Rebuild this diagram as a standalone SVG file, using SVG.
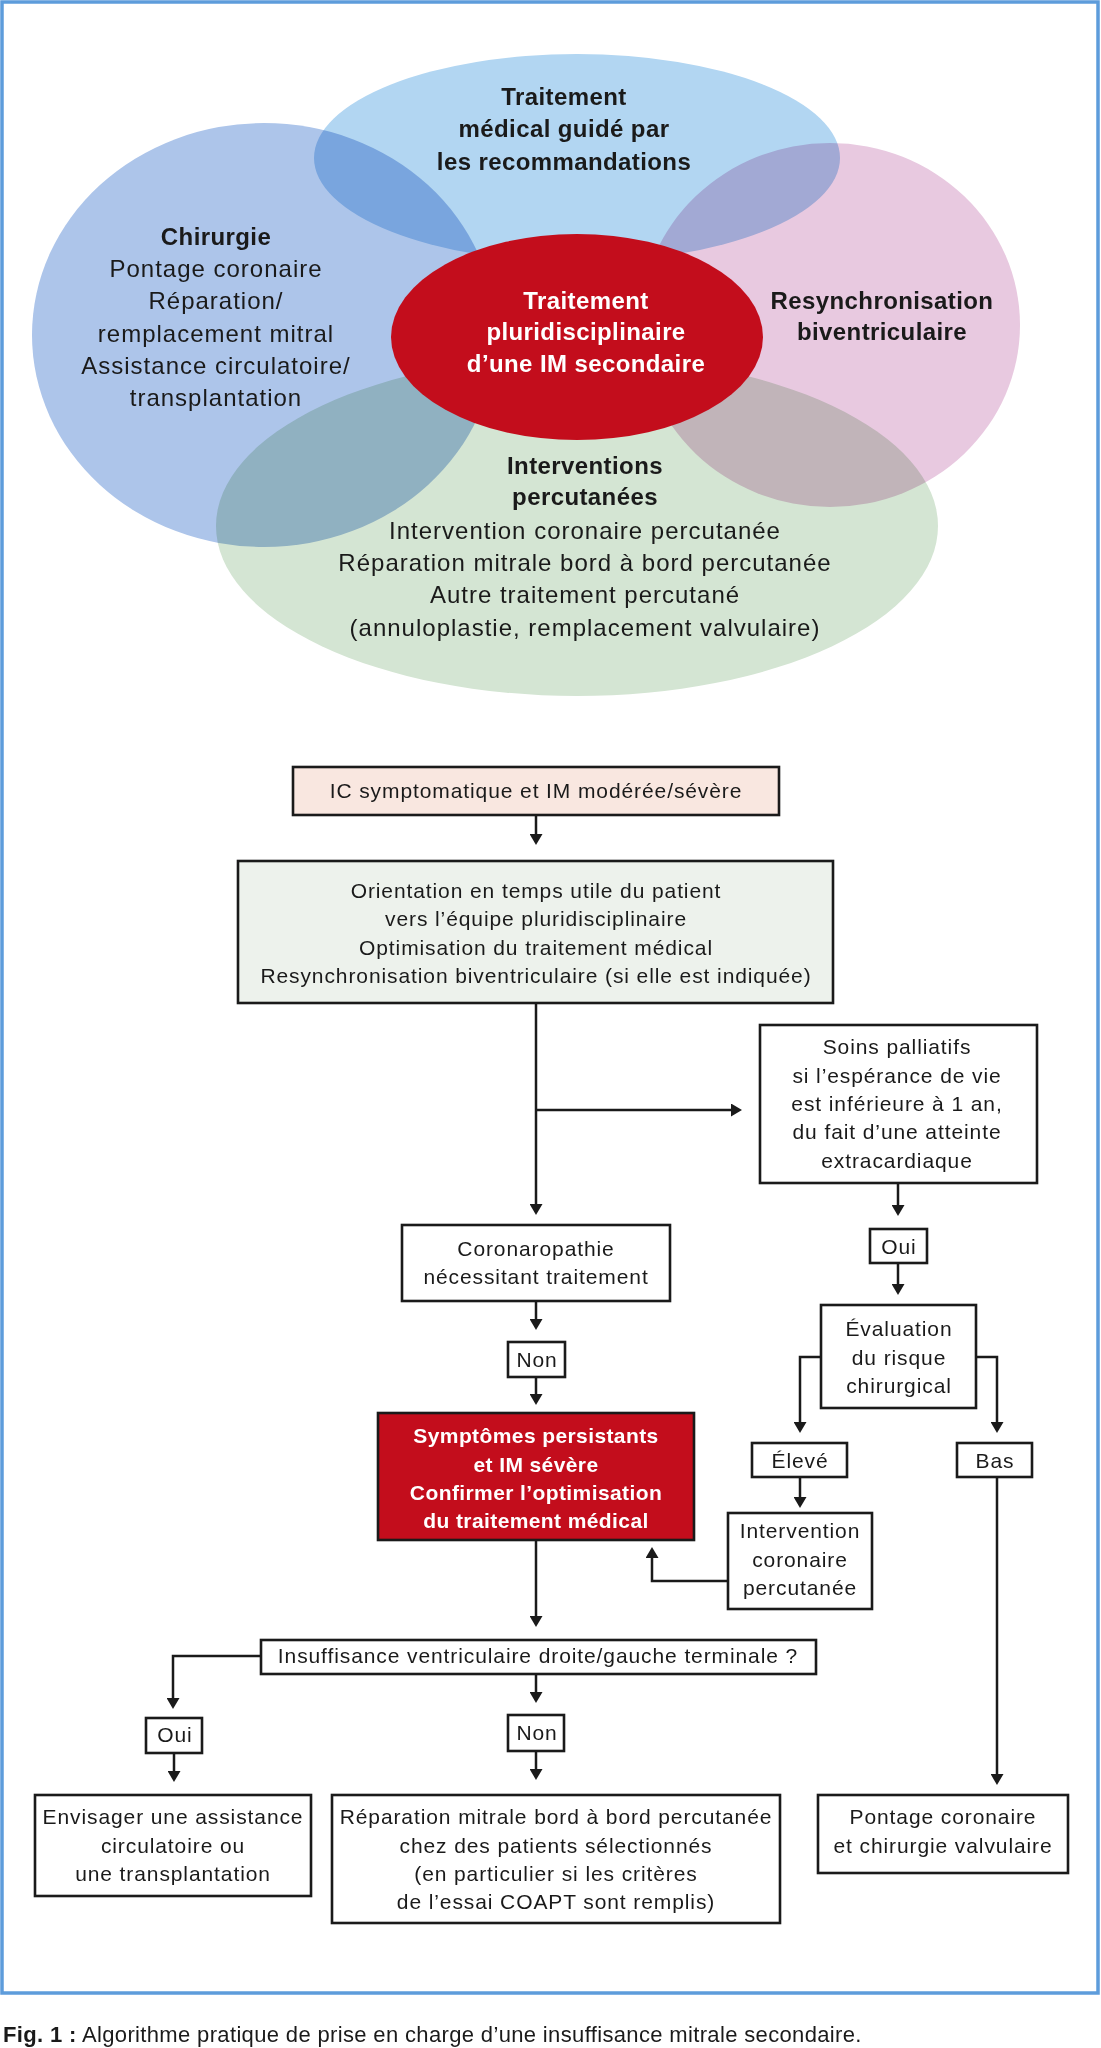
<svg xmlns="http://www.w3.org/2000/svg" width="1101" height="2048" viewBox="0 0 1101 2048">
<style>
.el{mix-blend-mode:multiply}
.t{font-family:"Liberation Sans",Arial,sans-serif;font-size:24px;letter-spacing:1px;fill:#1a1a1a;text-anchor:middle}
.tb{font-family:"Liberation Sans",Arial,sans-serif;font-size:24px;font-weight:bold;letter-spacing:0.4px;fill:#1a1a1a;text-anchor:middle}
.w{fill:#ffffff}
.f{font-family:"Liberation Sans",Arial,sans-serif;font-size:21px;letter-spacing:0.9px;fill:#1a1a1a;text-anchor:middle}
.fb{font-family:"Liberation Sans",Arial,sans-serif;font-size:21px;font-weight:bold;letter-spacing:0.4px;fill:#ffffff;text-anchor:middle}
.box{fill:#ffffff;stroke:#1a1a1a;stroke-width:2.6}
.con{fill:none;stroke:#1a1a1a;stroke-width:2.5;marker-end:url(#ah)}
.cap{font-family:"Liberation Sans",Arial,sans-serif;font-size:22px;letter-spacing:0.35px;fill:#1a1a1a}
</style>
<defs>
<marker id="ah" viewBox="0 0 11 13" refX="8" refY="6.5" markerWidth="11" markerHeight="13" markerUnits="userSpaceOnUse" orient="auto">
<path d="M0,0 L11,6.5 L0,13 z" fill="#1a1a1a"/>
</marker>
</defs>
<rect x="2" y="2" width="1096" height="1991" fill="#ffffff" stroke="#5d9cdb" stroke-width="3.5"/>

<g id="venn">
<g id="ellipse-top"><ellipse class="el" cx="577" cy="158" rx="263" ry="104" fill="#b2d6f2"/></g>
<g id="ellipse-left"><ellipse class="el" cx="264" cy="335" rx="232" ry="212" fill="#adc5ea"/></g>
<g id="ellipse-right"><ellipse class="el" cx="830" cy="325" rx="190" ry="182" fill="#e8c9e0"/></g>
<g id="ellipse-bottom"><ellipse class="el" cx="577" cy="526" rx="361" ry="170" fill="#d4e5d3"/></g>
<g id="ellipse-center"><ellipse cx="577" cy="337" rx="186" ry="103" fill="#c30d1c"/></g>
</g>

<g id="venn-labels">
<g id="label-top">
<text class="tb" x="564" y="105">Traitement</text>
<text class="tb" x="564" y="137">médical guidé par</text>
<text class="tb" x="564" y="170">les recommandations</text>
</g>
<g id="label-left">
<text class="tb" x="216" y="245">Chirurgie</text>
<text class="t" x="216" y="277">Pontage coronaire</text>
<text class="t" x="216" y="309">Réparation/</text>
<text class="t" x="216" y="342">remplacement mitral</text>
<text class="t" x="216" y="374">Assistance circulatoire/</text>
<text class="t" x="216" y="406">transplantation</text>
</g>
<g id="label-center">
<text class="tb w" x="586" y="309">Traitement</text>
<text class="tb w" x="586" y="340">pluridisciplinaire</text>
<text class="tb w" x="586" y="372">d’une IM secondaire</text>
</g>
<g id="label-right">
<text class="tb" x="882" y="309">Resynchronisation</text>
<text class="tb" x="882" y="340">biventriculaire</text>
</g>
<g id="label-bottom">
<text class="tb" x="585" y="474">Interventions</text>
<text class="tb" x="585" y="505">percutanées</text>
<text class="t" x="585" y="539">Intervention coronaire percutanée</text>
<text class="t" x="585" y="571">Réparation mitrale bord à bord percutanée</text>
<text class="t" x="585" y="603">Autre traitement percutané</text>
<text class="t" x="585" y="636">(annuloplastie, remplacement valvulaire)</text>
</g>
</g>

<g id="connectors">
<path class="con" d="M536,815 V842"/>
<path class="con" d="M536,1003 V1212"/>
<path class="con" d="M536,1110 H739"/>
<path class="con" d="M898,1183 V1213"/>
<path class="con" d="M898,1263 V1292"/>
<path class="con" d="M821,1357 H800 V1430"/>
<path class="con" d="M976,1357 H997 V1430"/>
<path class="con" d="M800,1477 V1505"/>
<path class="con" d="M728,1581 H652 V1550"/>
<path class="con" d="M997,1477 V1782"/>
<path class="con" d="M536,1301 V1327"/>
<path class="con" d="M536,1377 V1402"/>
<path class="con" d="M536,1540 V1624"/>
<path class="con" d="M261,1656 H173 V1706"/>
<path class="con" d="M174,1753 V1779"/>
<path class="con" d="M536,1674 V1700"/>
<path class="con" d="M536,1751 V1777"/>
</g>

<g id="n-ic">
<rect class="box" x="293" y="767" width="486" height="48" style="fill:#f9e7e0"/>
<text class="f" x="536" y="798">IC symptomatique et IM modérée/sévère</text>
</g>
<g id="n-orientation">
<rect class="box" x="238" y="861" width="595" height="142" style="fill:#edf2ec"/>
<text class="f" x="536" y="898">Orientation en temps utile du patient</text>
<text class="f" x="536" y="926">vers l’équipe pluridisciplinaire</text>
<text class="f" x="536" y="955">Optimisation du traitement médical</text>
<text class="f" x="536" y="983">Resynchronisation biventriculaire (si elle est indiquée)</text>
</g>
<g id="n-soins">
<rect class="box" x="760" y="1025" width="277" height="158"/>
<text class="f" x="897" y="1054">Soins palliatifs</text>
<text class="f" x="897" y="1083">si l’espérance de vie</text>
<text class="f" x="897" y="1111">est inférieure à 1 an,</text>
<text class="f" x="897" y="1139">du fait d’une atteinte</text>
<text class="f" x="897" y="1168">extracardiaque</text>
</g>
<g id="n-coronaropathie">
<rect class="box" x="402" y="1225" width="268" height="76"/>
<text class="f" x="536" y="1256">Coronaropathie</text>
<text class="f" x="536" y="1284">nécessitant traitement</text>
</g>
<g id="n-oui1">
<rect class="box" x="870" y="1229" width="57" height="34"/>
<text class="f" x="899" y="1254">Oui</text>
</g>
<g id="n-non1">
<rect class="box" x="508" y="1342" width="57" height="35"/>
<text class="f" x="537" y="1367">Non</text>
</g>
<g id="n-evaluation">
<rect class="box" x="821" y="1305" width="155" height="103"/>
<text class="f" x="899" y="1336">Évaluation</text>
<text class="f" x="899" y="1365">du risque</text>
<text class="f" x="899" y="1393">chirurgical</text>
</g>
<g id="n-eleve">
<rect class="box" x="752" y="1443" width="95" height="34"/>
<text class="f" x="800" y="1468">Élevé</text>
</g>
<g id="n-bas">
<rect class="box" x="957" y="1443" width="75" height="34"/>
<text class="f" x="995" y="1468">Bas</text>
</g>
<g id="n-symptomes">
<rect x="378" y="1413" width="316" height="127" fill="#c30d1c" stroke="#1a1a1a" stroke-width="2.6"/>
<text class="fb" x="536" y="1443">Symptômes persistants</text>
<text class="fb" x="536" y="1472">et IM sévère</text>
<text class="fb" x="536" y="1500">Confirmer l’optimisation</text>
<text class="fb" x="536" y="1528">du traitement médical</text>
</g>
<g id="n-intervention">
<rect class="box" x="728" y="1513" width="144" height="96"/>
<text class="f" x="800" y="1538">Intervention</text>
<text class="f" x="800" y="1567">coronaire</text>
<text class="f" x="800" y="1595">percutanée</text>
</g>
<g id="n-insuffisance">
<rect class="box" x="261" y="1640" width="555" height="34"/>
<text class="f" x="538" y="1663">Insuffisance ventriculaire droite/gauche terminale ?</text>
</g>
<g id="n-oui2">
<rect class="box" x="146" y="1718" width="56" height="35"/>
<text class="f" x="175" y="1742">Oui</text>
</g>
<g id="n-non2">
<rect class="box" x="508" y="1715" width="56" height="36"/>
<text class="f" x="537" y="1740">Non</text>
</g>
<g id="n-envisager">
<rect class="box" x="35" y="1795" width="276" height="101"/>
<text class="f" x="173" y="1824">Envisager une assistance</text>
<text class="f" x="173" y="1853">circulatoire ou</text>
<text class="f" x="173" y="1881">une transplantation</text>
</g>
<g id="n-reparation">
<rect class="box" x="332" y="1795" width="448" height="128"/>
<text class="f" x="556" y="1824">Réparation mitrale bord à bord percutanée</text>
<text class="f" x="556" y="1853">chez des patients sélectionnés</text>
<text class="f" x="556" y="1881">(en particulier si les critères</text>
<text class="f" x="556" y="1909">de l’essai COAPT sont remplis)</text>
</g>
<g id="n-pontage">
<rect class="box" x="818" y="1795" width="250" height="78"/>
<text class="f" x="943" y="1824">Pontage coronaire</text>
<text class="f" x="943" y="1853">et chirurgie valvulaire</text>
</g>

<text class="cap" x="3" y="2042"><tspan font-weight="bold">Fig. 1 :</tspan> Algorithme pratique de prise en charge d’une insuffisance mitrale secondaire.</text>
</svg>
